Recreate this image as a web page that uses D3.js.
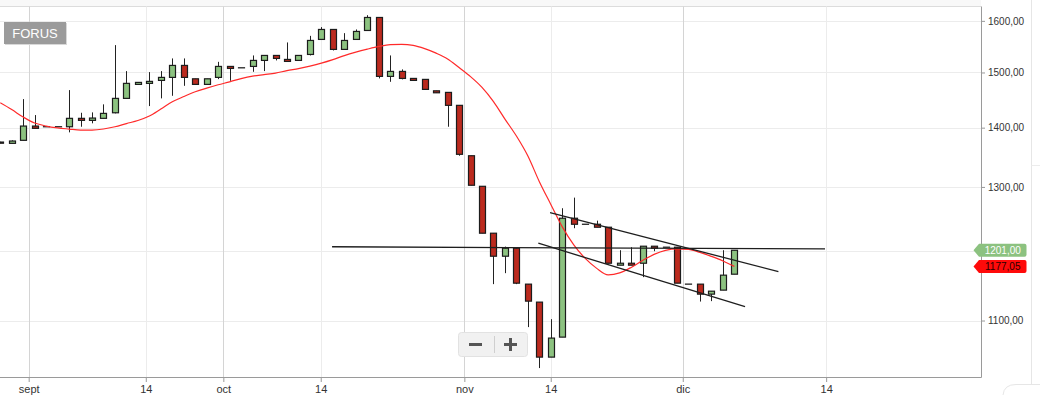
<!DOCTYPE html>
<html>
  <head>
    <title>FORUS candles</title>
    <script src="https://d3js.org/d3.v7.min.js"></script>
    <style>
      body { margin: 0; background: #fff; }
      svg { display: block; font-family: "Liberation Sans", Arial, sans-serif; }
      .axis .domain { display: none; }
      .axis .tick line { stroke: #999; }
      .axis .tick text { fill: #333; }
      .y-axis .tick text { font-size: 10px; }
      .x-axis .tick text { font-size: 11px; }
    </style>
  </head>
  <body>
    <svg width="1040" height="395"></svg>
    <script>
      // daily candles, index 0..64
      const candleOpen = [1375, 1372.8, 1378, 1402.8, 1401.6, 1401.6, 1401.6, 1416.4, 1412.8, 1416.4,
        1426.3, 1452.2, 1477.8, 1479.7, 1485.2, 1490.8, 1513.3, 1488.2, 1477.8, 1490.8,
        1511.4, 1508.8, 1511.4, 1522.8, 1532.3, 1524.7, 1522.8, 1534.2, 1563.3, 1582.9,
        1543.9, 1563.3, 1580.9, 1606.8, 1492.7, 1502.0, 1488.9, 1487.1, 1466.0, 1463.1,
        1439.6, 1351.7, 1301.0, 1226.9, 1192.1, 1204.1, 1151.2, 1125.6, 1050.8, 1077.4,
        1250.1, 1240.7, 1240.7, 1236.1, 1178.8, 1181.7, 1181.7, 1207.1, 1205.6, 1205.6,
        1151.2, 1151.2, 1136.9, 1142.6, 1165.6];
      const candleHigh = [1375.5, 1378, 1450.9, 1422.2, 1401.6, 1401.6, 1467.3, 1426.3, 1427.0, 1441.4,
        1552.2, 1502.6, 1481.5, 1500.7, 1502.6, 1526.6, 1526.6, 1488.2, 1488.2, 1520.1,
        1511.4, 1508.8, 1532.3, 1532.3, 1532.3, 1557.4, 1532.3, 1570.3, 1587.5, 1582.9,
        1575.6, 1582.9, 1611.4, 1606.8, 1532.3, 1505.8, 1488.9, 1487.1, 1466.0, 1463.1,
        1439.6, 1351.7, 1301.0, 1226.9, 1206.5, 1204.1, 1151.2, 1125.6, 1101.9, 1265.8,
        1282.7, 1240.7, 1246.3, 1236.1, 1201.1, 1205.6, 1207.1, 1207.1, 1205.6, 1205.6,
        1151.2, 1151.2, 1141.1, 1201.1, 1201.0];
      const candleLow = [1373, 1372.8, 1378, 1398.8, 1401.6, 1401.6, 1391.8, 1401.6, 1407.6, 1416.4,
        1425.2, 1452.2, 1477.8, 1438.3, 1452.2, 1456.9, 1475.2, 1477.8, 1477.8, 1487.6,
        1484.5, 1508.8, 1501.3, 1502.6, 1522.8, 1520.9, 1522.8, 1532.3, 1563.3, 1541.9,
        1543.9, 1563.3, 1580.9, 1488.9, 1482.6, 1487.1, 1485.2, 1468.6, 1462.4, 1401.6,
        1351.7, 1302.7, 1226.9, 1151.2, 1167.1, 1151.2, 1091.0, 1036.5, 1050.8, 1077.4,
        1234.6, 1240.7, 1236.1, 1181.7, 1178.8, 1178.8, 1161.3, 1199.6, 1205.6, 1152.6,
        1151.2, 1126.4, 1127.0, 1142.6, 1165.6];
      const candleClose = [1373, 1376.8, 1402.8, 1398.8, 1401.6, 1401.6, 1416.4, 1412.8, 1416.9, 1425.2,
        1452.2, 1479.7, 1481.5, 1483.4, 1490.8, 1513.3, 1490.8, 1477.8, 1488.2, 1511.4,
        1507.6, 1508.8, 1522.8, 1532.3, 1526.6, 1520.9, 1532.3, 1561.3, 1582.9, 1543.9,
        1561.3, 1579.0, 1606.8, 1492.7, 1502.0, 1488.9, 1485.2, 1468.6, 1462.4, 1439.6,
        1354.1, 1302.7, 1226.9, 1192.1, 1204.1, 1152.6, 1127.0, 1050.8, 1076.1, 1250.1,
        1240.7, 1240.7, 1236.1, 1181.7, 1181.7, 1178.8, 1207.1, 1204.1, 1205.6, 1152.6,
        1151.2, 1136.9, 1141.1, 1164.2, 1201.0];

      // moving average (red line), one value per candle
      const maValues = [1444.2, 1432.0, 1418.7, 1408.1, 1402.8, 1399.6, 1397.6, 1395.8, 1395.8, 1397.6,
        1401.6, 1407.2, 1412.5, 1420.4, 1432.9, 1446.0, 1455.5, 1464.2, 1471.0, 1477.1,
        1482.6, 1488.6, 1493.2, 1496.0, 1498.8, 1503.5, 1507.3, 1512.0, 1517.6, 1524.3,
        1532.0, 1538.6, 1544.4, 1549.6, 1553.1, 1553.5, 1551.6, 1545.4, 1536.7, 1525.6,
        1509.2, 1492.3, 1472.3, 1446.4, 1415.1, 1385.4, 1351.2, 1308.5, 1271.8, 1236.6,
        1209.1, 1188.8, 1174.1, 1164.6, 1167.5, 1175.5, 1185.8, 1194.8, 1200.8, 1203.0,
        1202.3, 1197.8, 1191.8, 1185.1, 1177.05];

      // drawn trend lines: [startIndex, startPrice, endIndex, endPrice]
      const trendLines = [
        [28.93, 1206.3, 71.9, 1203.0],
        [47.93, 1258.9, 67.84, 1169.4],
        [46.91, 1211.6, 64.93, 1119.4]
      ];

      const xTickPos = [2.48, 12.69, 19.45, 27.94, 40.46, 47.99, 59.5, 72.0];
      const xTickLabels = ["sept", "14", "oct", "14", "nov", "14", "dic", "14"];
      const xMonthTick = [true, false, true, false, true, false, true, false];
      const yGridValues = [1100, 1200, 1300, 1400, 1500, 1600];
      const yTickValues = [1100, 1300, 1400, 1500, 1600];

      const symbol = "FORUS";
      const lastPrice = 1201.00;
      const lastMa = 1177.05;

      const svg = d3.select("svg");
      const plotRight = 981;
      const plotTop = 6.5;
      const plotBottom = 377;

      const xScale = d3.scaleLinear().domain([-0.02, 85.5]).range([0, plotRight]);
      const yScale = d3.scaleLog().domain([1025, 1629]).range([plotBottom, plotTop]);

      const locale = d3.formatLocale({decimal: ",", thousands: ".", grouping: [3], currency: ["", ""]});
      const priceFmt = locale.format(".2f");

      // frame
      svg.append("rect")
          .attr("x", 0).attr("y", 0).attr("width", plotRight).attr("height", plotTop)
          .attr("fill", "#f8f8f8");
      svg.append("line")
          .attr("x1", 0).attr("x2", plotRight).attr("y1", plotTop).attr("y2", plotTop)
          .attr("stroke", "#dcdcdc");
      svg.append("line")
          .attr("x1", 1031.5).attr("x2", 1031.5).attr("y1", 0).attr("y2", 384.5)
          .attr("stroke", "#e6e6e6");
      svg.append("line")
          .attr("x1", 1031.5).attr("x2", 1040).attr("y1", 165.5).attr("y2", 165.5)
          .attr("stroke", "#ececec");
      svg.append("path")
          .attr("d", "M1003,395 Q1004,384.5 1016,384.5 L1040,384.5")
          .attr("fill", "none")
          .attr("stroke", "#e6e6e6");

      // grid
      const grid = svg.append("g");
      grid.selectAll("line.h").data(yGridValues).enter().append("line")
          .attr("class", "h")
          .attr("x1", 0).attr("x2", plotRight)
          .attr("y1", d => Math.round(yScale(d)) + 0.5)
          .attr("y2", d => Math.round(yScale(d)) + 0.5)
          .attr("stroke", "#ececec");
      grid.selectAll("line.v").data(xTickPos).enter().append("line")
          .attr("class", "v")
          .attr("x1", d => Math.round(xScale(d)) + 0.5)
          .attr("x2", d => Math.round(xScale(d)) + 0.5)
          .attr("y1", plotTop).attr("y2", plotBottom)
          .attr("stroke", (d, i) => xMonthTick[i] ? "#d4d4d4" : "#ececec");

      // axes
      const yAxis = d3.axisRight(yScale)
          .tickValues(yTickValues)
          .tickSize(4)
          .tickFormat(priceFmt);
      svg.append("g")
          .attr("class", "axis y-axis")
          .attr("transform", `translate(${plotRight}, 0)`)
          .call(yAxis);

      const xAxis = d3.axisBottom(xScale)
          .tickValues(xTickPos)
          .tickSize(5)
          .tickFormat((d, i) => xTickLabels[i]);
      svg.append("g")
          .attr("class", "axis x-axis")
          .attr("transform", `translate(0, ${plotBottom})`)
          .call(xAxis);

      svg.append("path")
          .attr("d", `M0,${plotBottom + 0.5}H${plotRight + 0.5}V${plotTop}`)
          .attr("fill", "none")
          .attr("stroke", "#9a9a9a");

      // candles
      const g = svg.append("g");
      const step = xScale(1) - xScale(0);
      const bw = Math.round(step * 0.53);
      const candles = candleOpen.map((o, i) => ({
        i, o, h: candleHigh[i], l: candleLow[i], c: candleClose[i]
      }));

      g.selectAll("line.wick").data(candles.filter(d => d.h > d.l)).enter().append("line")
          .attr("class", "wick")
          .attr("x1", d => Math.round(xScale(d.i)) + 0.5)
          .attr("x2", d => Math.round(xScale(d.i)) + 0.5)
          .attr("y1", d => yScale(d.h))
          .attr("y2", d => yScale(d.l))
          .attr("stroke", "#222")
          .attr("stroke-width", 1);

      g.selectAll("rect.body").data(candles.filter(d => d.o !== d.c)).enter().append("rect")
          .attr("class", "body")
          .attr("x", d => Math.round(xScale(d.i)) + 0.5 - bw / 2)
          .attr("y", d => yScale(Math.max(d.o, d.c)))
          .attr("width", bw)
          .attr("height", d => Math.max(1, yScale(Math.min(d.o, d.c)) - yScale(Math.max(d.o, d.c))))
          .attr("fill", d => d.c > d.o ? "#8cc280" : "#bb2a1e")
          .attr("stroke", "#1c1c1c")
          .attr("stroke-width", 1.2);

      g.selectAll("line.flat").data(candles.filter(d => d.o === d.c)).enter().append("line")
          .attr("class", "flat")
          .attr("x1", d => Math.round(xScale(d.i)) + 0.5 - bw / 2 - 0.6)
          .attr("x2", d => Math.round(xScale(d.i)) + 0.5 + bw / 2 + 0.6)
          .attr("y1", d => yScale(d.c))
          .attr("y2", d => yScale(d.c))
          .attr("stroke", "#222")
          .attr("stroke-width", 1.3);

      // moving average
      const maLine = d3.line()
          .x((d, i) => xScale(i))
          .y(d => yScale(d))
          .curve(d3.curveMonotoneX);
      svg.append("path")
          .datum(maValues)
          .attr("d", maLine)
          .attr("fill", "none")
          .attr("stroke", "#ff2a2a")
          .attr("stroke-width", 1.2);

      // trend lines
      svg.selectAll("line.trend").data(trendLines).enter().append("line")
          .attr("class", "trend")
          .attr("x1", d => xScale(d[0]))
          .attr("y1", d => yScale(d[1]))
          .attr("x2", d => xScale(d[2]))
          .attr("y2", d => yScale(d[3]))
          .attr("stroke", "#1e1e1e")
          .attr("stroke-width", 1.3);

      // price tags on the axis
      function tag(value, fill, textFill) {
        const cy = yScale(value);
        const x0 = plotRight - 7.5, x1 = x0 + 5.5, x2 = 1026.5, hh = 6.5;
        svg.append("path")
            .attr("d", `M${x0},${cy}L${x1},${cy - hh}H${x2 - 2}Q${x2},${cy - hh} ${x2},${cy - hh + 2}` +
              `V${cy + hh - 2}Q${x2},${cy + hh} ${x2 - 2},${cy + hh}H${x1}Z`)
            .attr("fill", fill);
        svg.append("text")
            .attr("x", (x1 + x2) / 2)
            .attr("y", cy)
            .attr("dy", "0.35em")
            .attr("text-anchor", "middle")
            .attr("font-size", 10)
            .attr("fill", textFill)
            .text(priceFmt(value));
      }
      tag(lastPrice, "#8cc280", "#fff");
      tag(lastMa, "#ff0a0a", "#2a0000");

      // symbol badge
      svg.append("rect")
          .attr("x", 5).attr("y", 23).attr("width", 62).attr("height", 22)
          .attr("fill", "#d8d8d8");
      svg.append("rect")
          .attr("x", 4).attr("y", 22).attr("width", 62).attr("height", 22)
          .attr("fill", "#9b9b9b");
      svg.append("text")
          .attr("x", 35).attr("y", 33)
          .attr("dy", "0.36em")
          .attr("text-anchor", "middle")
          .attr("font-size", 13)
          .attr("fill", "#fff")
          .text(symbol);

      // zoom buttons
      const zb = svg.append("g");
      zb.append("rect")
          .attr("x", 458.5).attr("y", 332.5).attr("width", 69).attr("height", 24).attr("rx", 3)
          .attr("fill", "#f1f1f1")
          .attr("stroke", "#e2e2e2");
      zb.append("line")
          .attr("x1", 494.5).attr("x2", 494.5).attr("y1", 336).attr("y2", 353)
          .attr("stroke", "#cfcfcf");
      zb.append("line")
          .attr("x1", 469).attr("x2", 482).attr("y1", 344.5).attr("y2", 344.5)
          .attr("stroke", "#555").attr("stroke-width", 3);
      zb.append("line")
          .attr("x1", 504).attr("x2", 517).attr("y1", 344.5).attr("y2", 344.5)
          .attr("stroke", "#555").attr("stroke-width", 3);
      zb.append("line")
          .attr("x1", 510.5).attr("x2", 510.5).attr("y1", 338).attr("y2", 351)
          .attr("stroke", "#555").attr("stroke-width", 3);
    </script>
  </body>
</html>
